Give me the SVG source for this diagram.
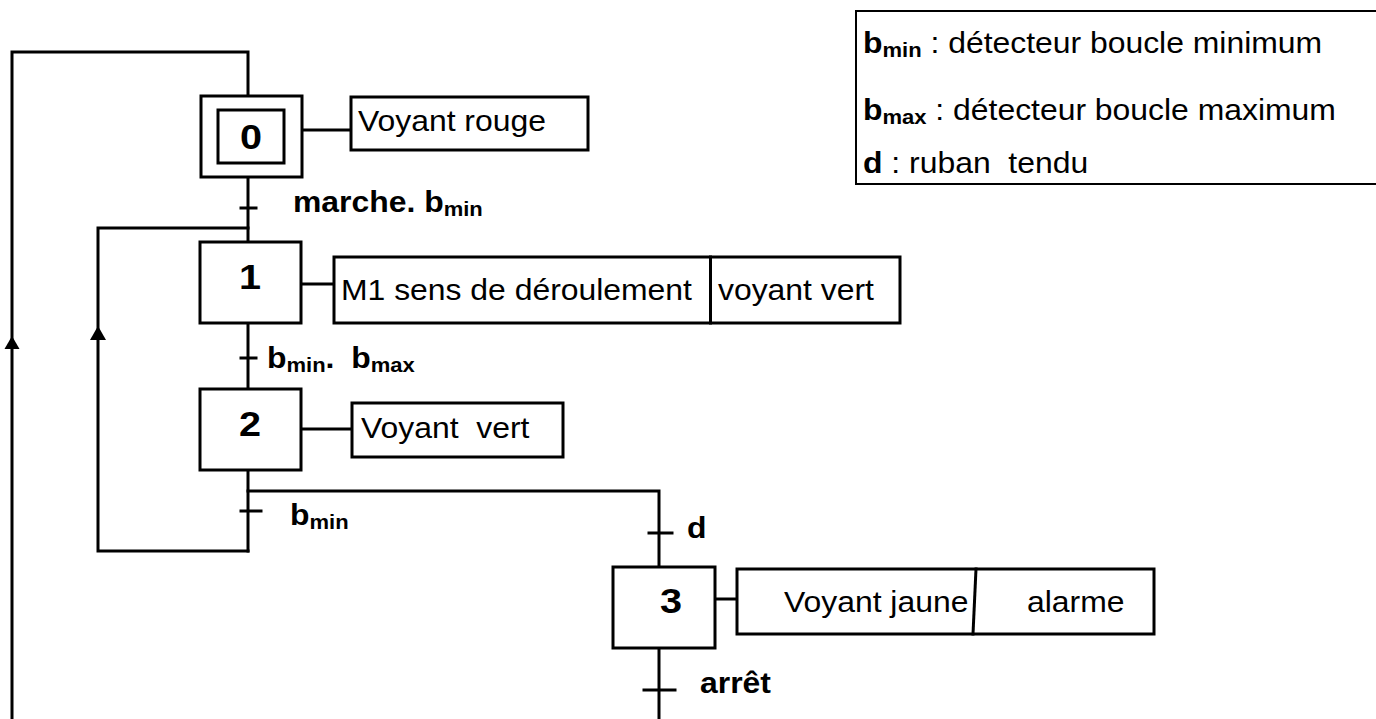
<svg xmlns="http://www.w3.org/2000/svg" width="1376" height="719" viewBox="0 0 1376 719">
<style>
.ln{stroke:#000;stroke-width:3;fill:none;stroke-linecap:square}
.box{fill:#fff;stroke:#000;stroke-width:3}
.t{font-family:"Liberation Sans",Arial,sans-serif;font-size:29px;fill:#000;white-space:pre}
.b{font-weight:bold}
.num{font-family:"Liberation Sans",Arial,sans-serif;font-size:36px;font-weight:bold;text-anchor:middle}
.s{font-size:20px;font-weight:bold}
.ah{fill:#000}
</style>
<rect width="1376" height="719" fill="#fff"/>
<g id="connectors">
  <path class="ln" d="M248,96 V52 H12 V719"/>
  <path class="ln" d="M248,177 V242"/>
  <path class="ln" d="M241,208 H256"/>
  <path class="ln" d="M248,551 H98 V228 H248"/>
  <path class="ln" d="M248,323 V389"/>
  <path class="ln" d="M241,358 H256"/>
  <path class="ln" d="M248,470 V551"/>
  <path class="ln" d="M241,511 H261"/>
  <path class="ln" d="M248,491 H659 V567"/>
  <path class="ln" d="M649,533 H672"/>
  <path class="ln" d="M659,648 V719"/>
  <path class="ln" d="M644,690 H675"/>
  <path class="ln" d="M302,130 H351"/>
  <path class="ln" d="M301,284 H334"/>
  <path class="ln" d="M302,429 H352"/>
  <path class="ln" d="M716,599 H737"/>
  <polygon class="ah" points="12,336 4.5,349 19.5,349"/>
  <polygon class="ah" points="98,326 90,340 106,340"/>
</g>
<g id="labels">
  <text class="t b" xml:space="preserve" transform="translate(293,212) scale(1.1,1)">marche. b<tspan class="s" dy="4">min</tspan></text>
  <text class="t b" xml:space="preserve" transform="translate(267,368) scale(1.1,1)">b<tspan class="s" dy="4">min</tspan><tspan dy="-4">.</tspan><tspan x="76.5">b</tspan><tspan class="s" dy="4">max</tspan></text>
  <text class="t b" xml:space="preserve" transform="translate(290,525) scale(1.1,1)">b<tspan class="s" dy="4">min</tspan></text>
  <text class="t b" transform="translate(687,538) scale(1.1,1)">d</text>
  <text class="t b" transform="translate(700,693) scale(1.1,1)">arrêt</text>
</g>
<g id="step0">
  <rect class="box" x="201" y="96" width="101" height="81"/>
  <rect class="box" x="218" y="110" width="66" height="53"/>
  <text class="num" transform="translate(251,149) scale(1.1,1)">0</text>
</g>
<g id="action0">
  <rect class="box" x="351" y="97" width="237" height="53"/>
  <text class="t" transform="translate(358,131) scale(1.1,1)">Voyant rouge</text>
</g>
<g id="step1">
  <rect class="box" x="200" y="242" width="101" height="81"/>
  <text class="num" transform="translate(250,289) scale(1.1,1)">1</text>
</g>
<g id="action1">
  <rect class="box" x="334" y="257" width="566" height="66"/>
  <path class="ln" d="M710.5,257 V323"/>
  <text class="t" transform="translate(341,300) scale(1.1,1)">M1 sens de déroulement</text>
  <text class="t" transform="translate(718,300) scale(1.1,1)">voyant vert</text>
</g>
<g id="step2">
  <rect class="box" x="200" y="389" width="101" height="81"/>
  <text class="num" transform="translate(250,436) scale(1.1,1)">2</text>
</g>
<g id="action2">
  <rect class="box" x="352" y="403" width="211" height="54"/>
  <text class="t" xml:space="preserve" transform="translate(361,438) scale(1.1,1)">Voyant  vert</text>
</g>
<g id="step3">
  <rect class="box" x="613" y="567" width="102" height="81"/>
  <text class="num" transform="translate(671,613) scale(1.1,1)">3</text>
</g>
<g id="action3">
  <rect class="box" x="737" y="569" width="417" height="65"/>
  <path class="ln" d="M976,569 L973,634"/>
  <text class="t" transform="translate(784,612) scale(1.1,1)">Voyant jaune</text>
  <text class="t" transform="translate(1027,612) scale(1.1,1)">alarme</text>
</g>
<g id="legend">
  <rect x="856" y="11" width="530" height="173" fill="#fff" stroke="#000" stroke-width="2"/>
  <text class="t" xml:space="preserve" transform="translate(863,53) scale(1.1,1)"><tspan class="b">b</tspan><tspan class="s" dy="4">min</tspan><tspan dy="-4"> : détecteur boucle minimum</tspan></text>
  <text class="t" xml:space="preserve" transform="translate(863,120) scale(1.1,1)"><tspan class="b">b</tspan><tspan class="s" dy="4">max</tspan><tspan dy="-4"> : détecteur boucle maximum</tspan></text>
  <text class="t" xml:space="preserve" transform="translate(863,173) scale(1.1,1)"><tspan class="b">d</tspan> : ruban  tendu</text>
</g>
</svg>
